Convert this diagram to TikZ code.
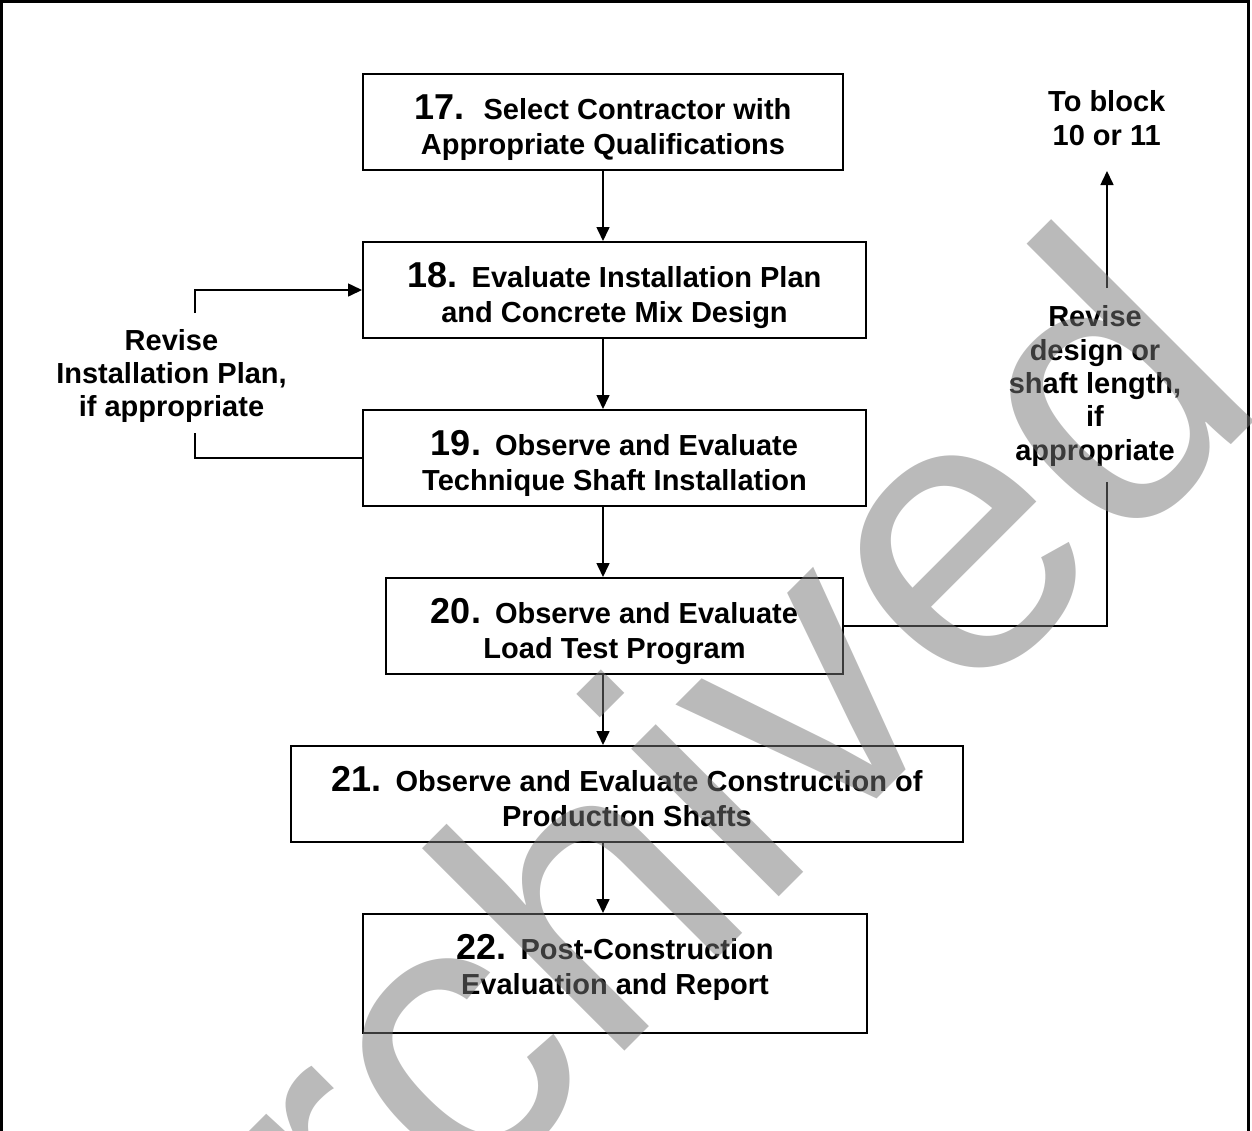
\documentclass[tikz,border=0pt]{standalone}
\usepackage{fontspec}
\setmainfont{Liberation Sans}
\usetikzlibrary{arrows.meta}
\definecolor{wmgray}{RGB}{118,118,118}
\newcommand\blkno[2][14pt]{{\fontsize{36}{35}\selectfont #2}\hspace{#1}}
\newcommand\mylines[1]{\begin{tabular}[t]{@{}c@{}}#1\end{tabular}}
\begin{document}
\begin{tikzpicture}[x=1pt,y=-1pt,
  box/.style={draw, line width=2pt, inner sep=0pt, minimum height=96pt,
    text height=20pt, text depth=25pt,
    font=\fontsize{29}{35}\selectfont\bfseries},
  lbl/.style={inner sep=0pt, anchor=base,
    font=\fontsize{29}{33.4}\selectfont\bfseries},
  conn/.style={line width=1.6pt},
  arr/.style={conn, -{Triangle[length=14pt,width=13pt]}},
  wmark/.style={rotate=45, anchor=base west, inner sep=0pt,
    font=\fontsize{395}{400}\selectfont, text=wmgray, text opacity=0.5}]
\useasboundingbox (0,0) rectangle (1252,1130);
\draw[line width=3pt] (1.3,1132) -- (1.3,1) -- (1248.7,1) -- (1248.7,1132);

\node[box, minimum width=480pt] (b17) at (603,122)
  {\mylines{\blkno[19pt]{17.}Select Contractor with\\Appropriate Qualifications}};
\node[box, minimum width=503pt] (b18) at (614.5,290)
  {\mylines{\blkno{18.}Evaluate Installation Plan\\and Concrete Mix Design}};
\node[box, minimum width=503pt] (b19) at (614.5,458)
  {\mylines{\blkno{19.}Observe and Evaluate\\Technique Shaft Installation}};
\node[box, minimum width=457pt] (b20) at (614.5,626)
  {\mylines{\blkno{20.}Observe and Evaluate\\Load Test Program}};
\node[box, minimum width=672pt] (b21) at (627,794)
  {\mylines{\blkno{21.}Observe and Evaluate Construction of\\Production Shafts}};
\node[box, minimum width=504pt, minimum height=119pt, text depth=48pt] (b22) at (615,973.5)
  {\mylines{\blkno{22.}Post-Construction\\Evaluation and Report}};

\node[lbl] (lblL) at (171.5,350) {\mylines{Revise\\Installation Plan,\\if appropriate}};
\node[lbl] (lblR) at (1095,326.7) {\mylines{Revise\\design or\\shaft length,\\if\\appropriate}};
\node[lbl] (lblT) at (1106.7,111.7) {\mylines{To block\\10 or 11}};

\draw[arr] (b17.south) -- (b17.south |- b18.north);
\draw[arr] (b17.south |- b18.south) -- (b17.south |- b19.north);
\draw[arr] (b17.south |- b19.south) -- (b17.south |- b20.north);
\draw[arr] (b17.south |- b20.south) -- (b17.south |- b21.north);
\draw[arr] (b17.south |- b21.south) -- (b17.south |- b22.north);

\coordinate (lu) at (195,313);
\coordinate (ll) at (195,433);
\draw[conn] (b19.west) -| (ll);
\draw[arr] (lu) |- (b18.west);

\coordinate (rl) at (1107,482);
\coordinate (ru) at (1107,288);
\coordinate (rt) at (1107,171);
\draw[conn] (b20.east) -| (rl);
\draw[arr] (ru) -- (rt);

\node[wmark] (wm) at (186,1490) {Archived};
\end{tikzpicture}
\end{document}
